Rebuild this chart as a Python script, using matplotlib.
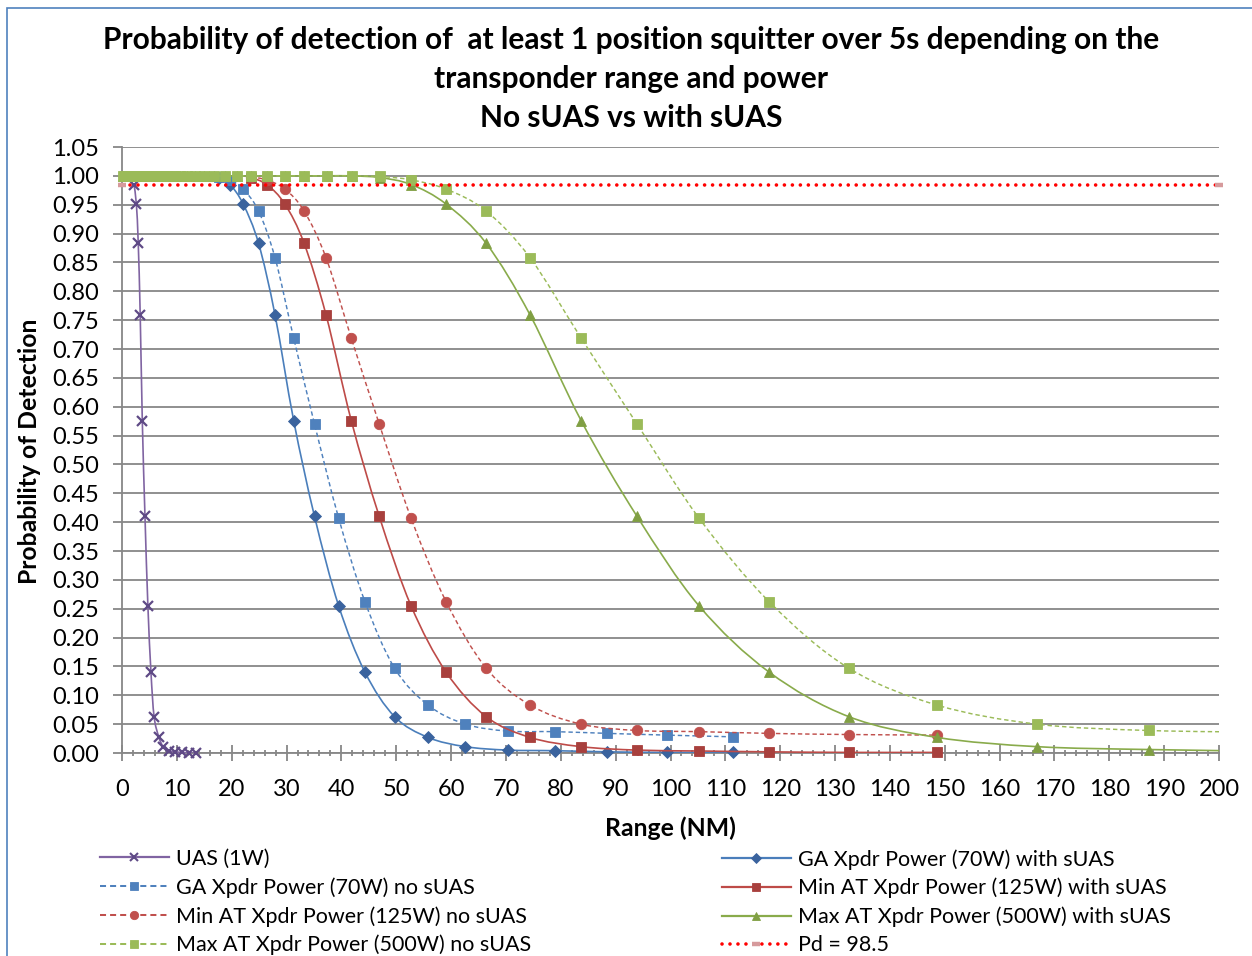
import numpy as np
import matplotlib

matplotlib.use("Agg")
import matplotlib.pyplot as plt
from matplotlib.lines import Line2D
from matplotlib.path import Path
from matplotlib.patches import PathPatch, Rectangle

plt.rcParams["font.family"] = ["Lato", "DejaVu Sans"]

# values (range in NM, probability of detection)
uas_range = [2.2, 2.62, 2.96, 3.32, 3.70, 4.19, 4.72, 5.28, 5.85, 6.7, 7.5, 8.5, 9.7, 11.0, 12.3, 13.5]
uas_pd = [0.984, 0.951, 0.883, 0.759, 0.576, 0.41, 0.255, 0.14, 0.063, 0.028, 0.011, 0.004, 0.002, 0.001, 0.0, 0.0]

ga_range = [17.6, 19.7, 22.1, 24.9, 27.9, 31.3, 35.1, 39.5, 44.3, 49.7, 55.8, 62.6, 70.3, 78.9, 88.5, 99.3, 111.4]
ga_with = [0.997, 0.985, 0.951, 0.883, 0.759, 0.576, 0.41, 0.255, 0.14, 0.063, 0.027, 0.011, 0.005, 0.004, 0.002, 0.001, 0.001]
ga_no = [0.998, 0.993, 0.977, 0.939, 0.858, 0.719, 0.57, 0.407, 0.262, 0.147, 0.083, 0.05, 0.038, 0.037, 0.034, 0.031, 0.028]

min_range = [23.5, 26.4, 29.7, 33.2, 37.2, 41.8, 46.9, 52.7, 59.1, 66.4, 74.4, 83.7, 93.9, 105.2, 118.0, 132.5, 148.6]
min_with = [0.997, 0.985, 0.951, 0.883, 0.759, 0.576, 0.41, 0.255, 0.14, 0.063, 0.027, 0.011, 0.005, 0.0035, 0.002, 0.001, 0.001]
min_no = [0.998, 0.993, 0.977, 0.939, 0.858, 0.719, 0.57, 0.407, 0.262, 0.147, 0.083, 0.05, 0.039, 0.037, 0.034, 0.032, 0.031]

max_range = [0.2, 0.6, 1.0, 1.4, 1.8, 2.2, 2.6, 3.0, 3.3, 3.7, 4.2, 4.7, 5.3, 5.9, 6.6,
             7.5, 8.4, 9.4, 10.5, 11.8, 13.3, 14.9, 16.7, 18.8, 21.0, 23.5, 26.5, 29.7, 33.2, 37.3,
             41.9, 47.0, 52.7, 59.1, 66.4, 74.4, 83.7, 93.9, 105.2, 118.0, 132.5, 148.6, 166.8, 187.2, 210.0]
max_with = [1.0, 1.0, 1.0, 1.0, 1.0, 1.0, 1.0, 1.0, 1.0, 1.0, 1.0, 1.0, 1.0, 1.0, 1.0,
            1.0, 1.0, 1.0, 1.0, 1.0, 1.0, 1.0, 1.0, 1.0, 1.0, 1.0, 1.0, 1.0, 1.0, 1.0,
            1.0, 0.997, 0.985, 0.951, 0.883, 0.759, 0.576, 0.41, 0.255, 0.14, 0.063, 0.027, 0.011, 0.006, 0.003]
max_no = [1.0, 1.0, 1.0, 1.0, 1.0, 1.0, 1.0, 1.0, 1.0, 1.0, 1.0, 1.0, 1.0, 1.0, 1.0,
          1.0, 1.0, 1.0, 1.0, 1.0, 1.0, 1.0, 1.0, 1.0, 1.0, 1.0, 1.0, 1.0, 1.0, 1.0,
          1.0, 0.999, 0.993, 0.977, 0.939, 0.858, 0.719, 0.57, 0.407, 0.262, 0.147, 0.083, 0.05, 0.039, 0.036]

pd_range = [0, 200]
pd_level = [0.985, 0.985]

labels = [
    "UAS (1W)",
    "GA Xpdr Power (70W) with sUAS",
    "GA Xpdr Power (70W) no sUAS",
    "Min AT Xpdr Power (125W) with sUAS",
    "Min AT Xpdr Power (125W) no sUAS",
    "Max AT Xpdr Power (500W) with sUAS",
    "Max AT Xpdr Power (500W) no sUAS",
    "Pd = 98.5",
]

DASH = (0, (3, 2))
GRID = "#878787"

# (x, y, line colour, line style, marker, marker colour, marker size)
series = [
    (uas_range, uas_pd, "#8064A2", "-", "x", "#5F4A86", 7.5),
    (ga_range, ga_with, "#4A7EBB", "-", "D", "#3A639E", 6),
    (ga_range, ga_no, "#4F81BD", DASH, "s", "#4F81BD", 7.5),
    (min_range, min_with, "#BE4B48", "-", "s", "#A8403D", 7.5),
    (min_range, min_no, "#C0504D", DASH, "o", "#C0504D", 7.5),
    (max_range, max_with, "#89AB4B", "-", "^", "#809F43", 7.5),
    (max_range, max_no, "#9BBB59", DASH, "s", "#9BBB59", 7.5),
]

XMAX = 200


def smooth_path(xs, ys):
    """Excel style smoothed line: Catmull-Rom segments as cubic Beziers."""
    pts = np.column_stack([xs, ys]).astype(float)
    n = len(pts)
    verts = [pts[0]]
    codes = [Path.MOVETO]
    for i in range(n - 1):
        p0 = pts[i - 1] if i > 0 else pts[i]
        p1 = pts[i]
        p2 = pts[i + 1]
        p3 = pts[i + 2] if i + 2 < n else pts[i + 1]
        verts += [p1 + (p2 - p0) / 6, p2 - (p3 - p1) / 6, p2]
        codes += [Path.CURVE4] * 3
    return Path(verts, codes)


fig = plt.figure(figsize=(12.52, 9.56), dpi=100)
ax = fig.add_axes([122 / 1252, 1 - 753 / 956, (1219 - 122) / 1252, (753 - 147) / 956])

handles = []
for k, (x, y, lc, ls, mk, mc, ms) in enumerate(series):
    lw = 1.05 if ls == DASH else 1.2
    ax.add_patch(PathPatch(smooth_path(x, y), fill=False, edgecolor=lc,
                           lw=lw, linestyle=ls, zorder=3 + 2 * k))
    inside = [v <= XMAX for v in x]
    if mk == "x":
        ax.plot(x, y, ls="none", marker=mk, ms=ms, mew=1.6, color=mc,
                markevery=inside, clip_on=False, zorder=4 + 2 * k)
    else:
        ax.plot(x, y, ls="none", marker=mk, ms=ms, mfc=mc, mec=mc, mew=0.6,
                markevery=inside, clip_on=False, zorder=4 + 2 * k)
    handles.append(Line2D([], [], color=lc, lw=lw + 0.4, ls=ls, marker=mk,
                          ms=ms * 0.8, mfc=mc, mec=mc,
                          mew=1.5 if mk == "x" else 0.6))

# required detection level
ax.plot(pd_range, pd_level, color="#FF0000", lw=2.6, ls=(0, (0.01, 2.2)),
        dash_capstyle="round", zorder=30)
ax.plot(pd_range, pd_level, ls="none", marker="_", ms=6, mew=3.2,
        color="#D69A9C", clip_on=False, zorder=31)
handles.append(Line2D([], [], color="#FF0000", lw=2.6, ls=(0, (0.01, 2.2)),
                      dash_capstyle="round", marker="_", ms=6, mew=3.2,
                      mec="#D69A9C"))

ax.set_xlim(0, XMAX)
ax.set_ylim(0, 1.05)
ax.set_xticks(np.arange(0, 201, 10))
ax.set_xticks(np.arange(0, 201, 2), minor=True)
ax.set_yticks(np.arange(0, 1.051, 0.05))
ax.set_yticklabels([f"{v:.2f}" for v in np.arange(0, 1.051, 0.05)])

ax.grid(axis="y", color=GRID, lw=1.3)
ax.set_axisbelow(True)
for side in ["top", "right"]:
    ax.spines[side].set_visible(False)
for side in ["left", "bottom"]:
    ax.spines[side].set_color(GRID)
    ax.spines[side].set_linewidth(1.3)

ax.tick_params(axis="x", which="major", direction="inout", length=11, width=1.3,
               color=GRID, labelsize=17, pad=13)
ax.tick_params(axis="x", which="minor", direction="inout", length=5, width=1.3,
               color=GRID)
ax.tick_params(axis="y", which="major", direction="out", length=6.5, width=1.3,
               color=GRID, labelsize=17, pad=10)

title_lines = [
    "Probability of detection of  at least 1 position squitter over 5s depending on the",
    "transponder range and power",
    "No sUAS vs with sUAS",
]
for i, line in enumerate(title_lines):
    fig.text(631 / 1252, 1 - (40 + 39 * i) / 956, line, ha="center", va="center",
             fontsize=21.5, fontweight="bold")

fig.text(670 / 1252, 1 - 828 / 956, "Range (NM)", ha="center", va="center",
         fontsize=17.8, fontweight="bold")
fig.text(30 / 1252, 1 - 451 / 956, "Probability of Detection", ha="center",
         va="center", rotation=90, fontsize=17.8, fontweight="bold")

# Excel puts legend entries row by row; two single-column legends keep that order
left = [0, 2, 4, 6]
right = [1, 3, 5, 7]
for idx, x0 in [(left, 100), (right, 722)]:
    fig.legend([handles[i] for i in idx], [labels[i] for i in idx],
               loc="upper left", bbox_to_anchor=(x0 / 1252, 1 - 849 / 956),
               frameon=False, fontsize=15.5, borderpad=0, borderaxespad=0,
               handlelength=3.2, handletextpad=0.33, labelspacing=0.38)

fig.patches.append(Rectangle((7 / 1252, -0.05), 1.1, 1 - 8 / 956 + 0.05,
                             transform=fig.transFigure, fill=False,
                             edgecolor="#4F81BD", lw=1.2))

fig.savefig("out.png", dpi=100)
